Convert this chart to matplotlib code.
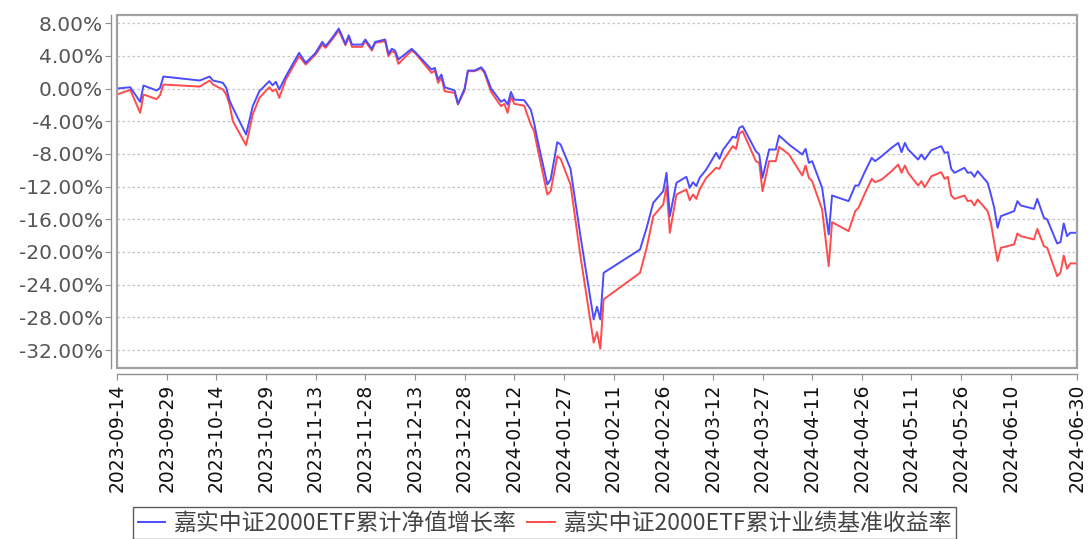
import matplotlib
matplotlib.use("Agg")
import matplotlib.pyplot as plt
import matplotlib.dates as mdates
import pandas as pd
from matplotlib.patches import Rectangle
from matplotlib.ticker import FuncFormatter

plt.rcParams['font.family'] = ['DejaVu Sans']

dates = [
    "2023-09-14", "2023-09-18", "2023-09-21", "2023-09-22", "2023-09-26", "2023-09-27", "2023-09-28",
    "2023-10-09", "2023-10-12", "2023-10-13", "2023-10-16", "2023-10-17", "2023-10-18", "2023-10-19",
    "2023-10-23", "2023-10-25", "2023-10-27", "2023-10-30", "2023-10-31",
    "2023-11-01", "2023-11-02", "2023-11-04", "2023-11-08", "2023-11-10", "2023-11-13", "2023-11-15",
    "2023-11-16", "2023-11-18", "2023-11-20", "2023-11-22", "2023-11-23", "2023-11-24", "2023-11-27",
    "2023-11-28", "2023-11-30",
    "2023-12-01", "2023-12-04", "2023-12-05", "2023-12-06", "2023-12-07", "2023-12-08", "2023-12-12",
    "2023-12-13", "2023-12-18", "2023-12-19", "2023-12-20", "2023-12-21", "2023-12-22", "2023-12-25",
    "2023-12-26", "2023-12-28", "2023-12-29", "2023-12-31",
    "2024-01-02", "2024-01-03", "2024-01-05", "2024-01-08", "2024-01-09", "2024-01-10", "2024-01-11",
    "2024-01-12", "2024-01-15", "2024-01-17", "2024-01-18", "2024-01-19", "2024-01-22", "2024-01-23",
    "2024-01-25", "2024-01-26", "2024-01-29",
    "2024-02-01", "2024-02-05", "2024-02-06", "2024-02-07", "2024-02-08", "2024-02-19", "2024-02-21",
    "2024-02-23", "2024-02-26", "2024-02-27", "2024-02-28",
    "2024-03-01", "2024-03-04", "2024-03-05", "2024-03-06", "2024-03-07", "2024-03-08", "2024-03-10",
    "2024-03-13", "2024-03-14", "2024-03-15", "2024-03-18", "2024-03-19", "2024-03-20", "2024-03-21",
    "2024-03-25", "2024-03-26", "2024-03-27", "2024-03-29", "2024-03-31",
    "2024-04-01", "2024-04-04", "2024-04-08", "2024-04-09", "2024-04-10", "2024-04-11", "2024-04-14",
    "2024-04-16", "2024-04-17", "2024-04-22", "2024-04-24", "2024-04-25", "2024-04-27", "2024-04-29",
    "2024-04-30",
    "2024-05-02", "2024-05-05", "2024-05-07", "2024-05-08", "2024-05-09", "2024-05-10", "2024-05-13",
    "2024-05-14", "2024-05-15", "2024-05-17", "2024-05-20", "2024-05-21", "2024-05-22", "2024-05-23",
    "2024-05-24", "2024-05-27", "2024-05-28", "2024-05-29", "2024-05-30", "2024-05-31",
    "2024-06-03", "2024-06-04", "2024-06-05", "2024-06-06", "2024-06-07", "2024-06-11", "2024-06-12",
    "2024-06-13", "2024-06-17", "2024-06-18", "2024-06-20", "2024-06-21", "2024-06-24", "2024-06-25",
    "2024-06-26", "2024-06-27", "2024-06-28", "2024-06-30",
]

# 累计净值增长率 (%)
nav_growth = [
    0.00, 0.16, -1.63, 0.37, -0.24, 0.08, 1.47,
    0.98, 1.47, 0.98, 0.70, 0.08, -1.47, -2.36,
    -5.63, -2.16, -0.33, 0.90, 0.40,
    0.82, -0.12, 1.50, 4.37, 3.14, 4.37, 5.71,
    5.18, 6.20, 7.34, 5.46, 6.52, 5.38, 5.38,
    6.00, 4.86,
    5.71, 6.00, 4.24, 4.86, 4.65, 3.55, 4.86,
    4.49, 2.32, 2.53, 1.10, 1.71, 0.16, -0.24,
    -1.87, 0.00, 2.20, 2.20,
    2.60, 2.12, 0.00, -1.63, -1.35, -1.96, -0.41,
    -1.35, -1.43, -2.57, -4.20, -6.24, -11.74, -11.13,
    -6.57, -6.85, -9.83,
    -18.06, -28.26, -26.70, -28.26, -22.55, -19.70, -17.04,
    -13.98, -12.56, -10.31, -15.62,
    -11.53, -10.80, -12.15, -11.46, -11.95, -10.93, -9.91,
    -7.87, -8.60, -7.55, -5.90, -6.03, -4.81, -4.60,
    -7.67, -8.07, -10.93, -7.46, -7.46,
    -5.75, -6.85, -8.07, -7.38, -9.09, -8.89, -12.15,
    -17.86, -13.09, -13.78, -11.87, -11.87, -10.11, -8.48,
    -8.89,
    -8.28, -7.25, -6.65, -7.79, -6.65, -7.46, -8.69,
    -8.07, -8.69, -7.55, -7.05, -7.87, -7.79, -9.83,
    -10.31, -9.70, -10.31, -10.24, -10.80, -10.11,
    -11.53, -12.97, -14.60, -17.04, -15.62, -15.00, -13.78,
    -14.31, -14.72, -13.50, -15.82, -16.02, -18.96, -18.80,
    -16.51, -18.06, -17.65, -17.65,
]

# 累计业绩基准收益率 (%)
benchmark = [
    -0.73, -0.16, -2.98, -0.73, -1.30, -0.80, 0.49,
    0.24, 0.98, 0.49, -0.12, -0.73, -1.96, -4.00,
    -6.93, -3.18, -1.14, 0.16, -0.33,
    -0.08, -1.14, 1.10, 3.96, 2.94, 4.16, 5.38,
    4.98, 6.00, 7.10, 5.30, 6.28, 5.10, 5.10,
    5.79, 4.65,
    5.59, 5.79, 3.96, 4.57, 4.37, 3.02, 4.65,
    4.37, 1.92, 2.20, 0.70, 1.31, -0.33, -0.53,
    -1.96, -0.24, 2.12, 2.12,
    2.45, 1.92, -0.41, -2.16, -1.87, -2.98, -0.94,
    -1.87, -2.10, -4.40, -5.22, -7.25, -12.97, -12.56,
    -8.28, -8.60, -11.74,
    -20.51, -31.10, -29.80, -31.84, -25.80, -22.55, -19.49,
    -15.62, -14.19, -11.95, -17.65,
    -12.97, -12.35, -13.66, -12.97, -13.50, -12.35, -10.93,
    -9.70, -9.83, -8.89, -7.05, -7.40, -5.50, -5.22,
    -8.89, -9.09, -12.56, -8.89, -8.89,
    -7.13, -8.07, -10.64, -9.42, -10.93, -11.34, -14.80,
    -21.74, -16.35, -17.45, -15.00, -14.60, -12.76, -11.05,
    -11.46,
    -11.13, -10.11, -9.30, -10.31, -9.42, -10.31, -11.87,
    -11.34, -12.07, -10.73, -10.24, -11.05, -10.80, -13.09,
    -13.50, -13.09, -13.78, -13.70, -14.31, -13.58,
    -15.00, -16.43, -18.87, -21.12, -19.49, -19.08, -17.74,
    -18.06, -18.47, -17.17, -19.29, -19.49, -22.96, -22.55,
    -20.43, -22.06, -21.40, -21.40,
]

x_ticks = ["2023-09-14", "2023-09-29", "2023-10-14", "2023-10-29", "2023-11-13", "2023-11-28",
           "2023-12-13", "2023-12-28", "2024-01-12", "2024-01-27", "2024-02-11", "2024-02-26",
           "2024-03-12", "2024-03-27", "2024-04-11", "2024-04-26", "2024-05-11", "2024-05-26",
           "2024-06-10", "2024-06-30"]
y_ticks = [8, 4, 0, -4, -8, -12, -16, -20, -24, -28, -32]

label_nav = "嘉实中证2000ETF累计净值增长率"
label_bench = "嘉实中证2000ETF累计业绩基准收益率"

df = pd.DataFrame({"date": pd.to_datetime(dates), "nav": nav_growth, "bench": benchmark})

fig = plt.figure(figsize=(10.89, 5.39), dpi=100)
ax = fig.add_axes([117 / 1089, 1 - 368 / 539, 960 / 1089, 353 / 539])

ax.plot(df.date, df.nav, color="#4b4bff", lw=1.4, label=label_nav, zorder=3)
ax.plot(df.date, df.bench, color="#ff4b4b", lw=1.4, label=label_bench, zorder=2)

ax.set_xlim(pd.Timestamp("2023-09-14"), pd.Timestamp("2024-06-30"))
ax.set_ylim(-34.2, 9.0)

ax.set_yticks(y_ticks)
ax.yaxis.set_major_formatter(FuncFormatter(lambda v, p: f"{v:.2f}%"))
ax.set_xticks(pd.to_datetime(x_ticks))
ax.xaxis.set_major_formatter(mdates.DateFormatter("%Y-%m-%d"))

ax.grid(axis="y", color="#c4c4c4", linestyle=(0, (2, 2)), lw=0.9)
ax.set_axisbelow(True)

for s in ["top", "right"]:
    ax.spines[s].set_visible(False)
for s in ["left", "bottom"]:
    ax.spines[s].set_position(("outward", 4))
    ax.spines[s].set_color("#909090")
    ax.spines[s].set_linewidth(1.0)

# plot outline
ax.add_patch(Rectangle((0, 0), 1, 1, transform=ax.transAxes, fill=False,
                       edgecolor="#a0a0a0", lw=1.6, zorder=5, clip_on=False))

ax.tick_params(axis="y", labelsize=14.5, labelcolor="#555555", color="#909090", length=4, pad=2)
ax.tick_params(axis="x", labelsize=13.5, labelcolor="#111111", color="#909090", length=4, pad=3,
               labelrotation=90)

leg = fig.legend(loc="upper center", bbox_to_anchor=(0.5, 1 - 507 / 539), ncol=2, frameon=True,
                 fancybox=False, edgecolor="#333333", handlelength=1.2, handletextpad=0.35,
                 columnspacing=0.5, borderpad=0.2, borderaxespad=0,
                 prop={"family": ["Noto Sans CJK SC", "DejaVu Sans"], "size": 16.5})
leg.get_frame().set_linewidth(1.0)
for t in leg.get_texts():
    t.set_color("#444444")

fig.savefig("out.png", dpi=100)
